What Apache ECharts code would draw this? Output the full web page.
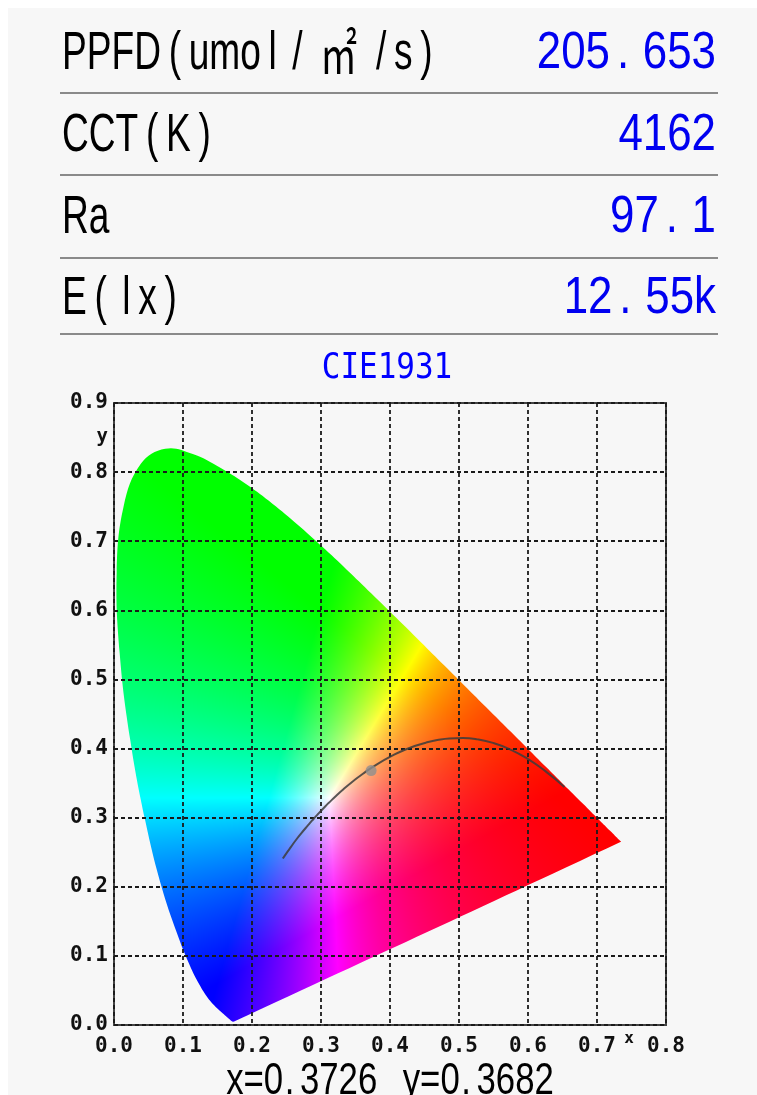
<!DOCTYPE html>
<html>
<head>
<meta charset="utf-8">
<script src="https://cdn.jsdelivr.net/npm/echarts@6/dist/echarts.min.js"></script>
<style>
  html, body { margin: 0; padding: 0; background: #ffffff; }
  #main { position: absolute; left: 8px; top: 8px; width: 749px; height: 1087px; }
</style>
</head>
<body>
<div id="main"></div>
<script>
var myChart = echarts.init(document.getElementById('main'));

// header table
var headerLabels = ['PPFD(umol/㎡/s)', 'CCT(K)', 'Ra', 'E(lx)'];
var headerValues = ['205.653', '4162', '97.1', '12.55k'];

// CIE 1931 2deg spectral locus, 380..700 nm
var locusX = [0.1741, 0.1740, 0.1738, 0.1736, 0.1733, 0.1730, 0.1726, 0.1721, 0.1714, 0.1703,
    0.1689, 0.1669, 0.1644, 0.1611, 0.1566, 0.1510, 0.1440, 0.1355, 0.1241, 0.1096,
    0.0913, 0.0687, 0.0454, 0.0235, 0.0082, 0.0039, 0.0139, 0.0389, 0.0743, 0.1142,
    0.1547, 0.1929, 0.2296, 0.2658, 0.3016, 0.3373, 0.3731, 0.4087, 0.4441, 0.4788,
    0.5125, 0.5448, 0.5752, 0.6029, 0.6270, 0.6482, 0.6658, 0.6801, 0.6915, 0.7006,
    0.7079, 0.7140, 0.7190, 0.7230, 0.7260, 0.7283, 0.7300, 0.7311, 0.7320, 0.7334, 0.7347];
var locusY = [0.0050, 0.0050, 0.0049, 0.0049, 0.0048, 0.0048, 0.0048, 0.0048, 0.0051, 0.0058,
    0.0069, 0.0086, 0.0109, 0.0138, 0.0177, 0.0227, 0.0297, 0.0399, 0.0578, 0.0868,
    0.1327, 0.2007, 0.2950, 0.4127, 0.5384, 0.6548, 0.7502, 0.8120, 0.8338, 0.8262,
    0.8059, 0.7816, 0.7543, 0.7243, 0.6923, 0.6589, 0.6245, 0.5896, 0.5547, 0.5202,
    0.4866, 0.4544, 0.4242, 0.3965, 0.3725, 0.3514, 0.3340, 0.3197, 0.3083, 0.2993,
    0.2920, 0.2859, 0.2809, 0.2770, 0.2740, 0.2717, 0.2700, 0.2689, 0.2680, 0.2666, 0.2653];

// planckian locus, 1000K .. 50000K
var planckX = [0.6528, 0.6251, 0.5985, 0.5732, 0.5493, 0.5267, 0.5056, 0.4862, 0.4685, 0.4525,
    0.4369, 0.4234, 0.4053, 0.3805, 0.3608, 0.3451, 0.3325, 0.3221, 0.3135, 0.3064,
    0.2952, 0.2869, 0.2807, 0.2719, 0.2637, 0.2565, 0.2498, 0.2447];
var planckY = [0.3444, 0.3674, 0.3858, 0.3993, 0.4082, 0.4133, 0.4152, 0.4147, 0.4123, 0.4087,
    0.4041, 0.3990, 0.3907, 0.3768, 0.3636, 0.3516, 0.3411, 0.3318, 0.3236, 0.3166,
    0.3048, 0.2956, 0.2884, 0.2780, 0.2677, 0.2577, 0.2484, 0.2409];

// measured chromaticity
var pointX = 0.3726;
var pointY = 0.3682;

function chromaColor(cx, cy) {
    if (cy <= 0.001) cy = 0.001;
    var X = cx / cy, Z = (1 - cx - cy) / cy;
    var r = 3.2406 * X - 1.5372 - 0.4986 * Z;
    var g = -0.9689 * X + 1.8758 + 0.0415 * Z;
    var b = 0.0557 * X - 0.2040 + 1.0570 * Z;
    r = Math.max(r, 0); g = Math.max(g, 0); b = Math.max(b, 0);
    var m = Math.max(r, g, b) || 1;
    return [Math.round(r / m * 255), Math.round(g / m * 255), Math.round(b / m * 255)];
}

var fillCanvas = null;
function buildFill(api) {
    var w = api.getWidth(), h = api.getHeight();
    var o = api.coord([0, 0]);
    var u = api.coord([1, 1]);
    var sx = u[0] - o[0], sy = u[1] - o[1];
    var cv = document.createElement('canvas');
    cv.width = w; cv.height = h;
    var ctx = cv.getContext('2d');
    var img = ctx.createImageData(w, h);
    for (var py = 0; py < h; py++) {
        var cy = (py + 0.5 - o[1]) / sy;
        if (cy < -0.01 || cy > 0.9) continue;
        for (var px = 0; px < w; px++) {
            var cx = (px + 0.5 - o[0]) / sx;
            if (cx < -0.01 || cx > 0.76) continue;
            var c = chromaColor(cx, cy);
            var k = (py * w + px) * 4;
            img.data[k] = c[0]; img.data[k + 1] = c[1]; img.data[k + 2] = c[2]; img.data[k + 3] = 255;
        }
    }
    ctx.putImageData(img, 0, 0);
    return cv;
}

function renderLocus(params, api) {
    if (!fillCanvas) fillCanvas = buildFill(api);
    var pts = [];
    for (var i = 0; i < locusX.length; i++) {
        pts.push(api.coord([locusX[i], locusY[i]]));
    }
    return {
        type: 'polygon',
        shape: { points: pts, smooth: 0.4 },
        style: { fill: { image: fillCanvas, repeat: 'no-repeat' }, stroke: null },
        silent: true
    };
}

var planckData = [];
for (var i = 0; i < planckX.length; i++) planckData.push([planckX[i], planckY[i]]);

var sansFont = '"Liberation Sans", Arial, sans-serif';
var monoFont = '"DejaVu Sans Mono", monospace';

// wrap narrow glyphs so they get extra room, like the device font
function spacedLabel(s) {
    var out = '', run = '';
    for (var i = 0; i < s.length; i++) {
        var c = s.charAt(i);
        if ('()/l'.indexOf(c) >= 0 || c === '㎡') {
            if (run) { out += '{n|' + run + '}'; run = ''; }
            out += (c === '㎡' ? '{m|' : '{g|') + c + '}';
        } else {
            run += c;
        }
    }
    if (run) out += '{n|' + run + '}';
    return out;
}
function spacedNumber(s) {
    return s.split('.').map(function (p) { return '{n|' + p + '}'; }).join('{d|.}');
}

function labelRich(size, color) {
    var f = 'normal ' + size + 'px ' + sansFont;
    return {
        n: { font: f, fill: color },
        g: { font: f, fill: color, padding: [0, 11, 0, 11] },
        m: { font: 'normal ' + size + 'px "Noto Sans CJK SC"', fill: color, padding: [0, 16, 0, 14] },
        d: { font: f, fill: color, padding: [0, 16, 0, 8] }
    };
}

var rowY = [46, 128, 210, 291];
var lineY = [85, 167, 250, 326];

var graphics = [];
for (var i = 0; i < headerLabels.length; i++) {
    graphics.push({
        type: 'text', x: 54, y: rowY[i], scaleX: 0.7,
        style: { legacy: false, text: spacedLabel(headerLabels[i]), font: 'normal 53px ' + sansFont,
            rich: labelRich(53, '#000'), align: 'left', verticalAlign: 'middle' }
    });
    graphics.push({
        type: 'text', x: 708, y: rowY[i], scaleX: 0.86,
        style: { legacy: false, text: spacedNumber(headerValues[i]), font: 'normal 51px ' + sansFont,
            rich: labelRich(51, '#0000f0'), align: 'right', verticalAlign: 'middle' }
    });
    graphics.push({
        type: 'line',
        shape: { x1: 52, y1: lineY[i], x2: 710, y2: lineY[i] },
        style: { stroke: '#8a8a8a', lineWidth: 2 }
    });
}
graphics.push({
    type: 'text', x: 379, y: 361, scaleX: 0.86,
    style: { legacy: false, text: 'CIE1931', font: 'normal 36px ' + monoFont, fill: '#0000ff',
        align: 'center', verticalAlign: 'middle' }
});
graphics.push({
    type: 'text', x: 100, y: 429,
    style: { legacy: false, text: 'y', font: 'bold 19px ' + monoFont, fill: '#111',
        align: 'right', verticalAlign: 'middle' }
});
graphics.push({
    type: 'text', x: 621, y: 1031,
    style: { legacy: false, text: 'x', font: 'bold 16px ' + monoFont, fill: '#111',
        align: 'center', verticalAlign: 'middle' }
});
var bottomRich = labelRich(44, '#000');
bottomRich.d.padding = [0, 7, 0, 2];
bottomRich.s = { font: 'normal 44px ' + sansFont, padding: [0, 10, 0, 10] };
graphics.push({
    type: 'text', x: 382, y: 1074, scaleX: 0.79,
    style: { legacy: false, text: '{n|x=}' + spacedNumber(pointX.toFixed(4)) + '{s| }{n|y=}' + spacedNumber(pointY.toFixed(4)),
        font: 'normal 44px ' + sansFont, rich: bottomRich, align: 'center', verticalAlign: 'middle' }
});

var axisLabelStyle = {
    fontFamily: monoFont,
    fontWeight: 'bold',
    fontSize: 21,
    color: '#111',
    formatter: function (v) { return v.toFixed(1); }
};
var gridLine = { show: true, lineStyle: { color: '#1a1a1a', width: 1.8, type: [4, 3] } };

option = {
    backgroundColor: '#f7f7f7',
    animation: false,
    grid: {
        left: 106, top: 395, right: 91, bottom: 70,
        show: true, borderColor: '#444', borderWidth: 2,
        backgroundColor: 'transparent',
        outerBoundsMode: 'none'
    },
    xAxis: {
        type: 'value', min: 0, max: 0.8, interval: 0.1, z: 3,
        axisLine: { show: false },
        axisTick: { show: false },
        axisLabel: Object.assign({ margin: 11 }, axisLabelStyle),
        splitLine: gridLine
    },
    yAxis: {
        type: 'value', min: 0, max: 0.9, interval: 0.1, z: 3,
        axisLine: { show: false },
        axisTick: { show: false },
        axisLabel: Object.assign({ margin: 6 }, axisLabelStyle),
        splitLine: gridLine
    },
    graphic: graphics,
    series: [{
        type: 'custom',
        renderItem: renderLocus,
        data: [0],
        silent: true,
        z: 2,
        clip: false
    }, {
        type: 'line',
        data: planckData,
        smooth: true,
        showSymbol: false,
        silent: true,
        lineStyle: { color: 'rgba(60,60,60,0.85)', width: 2 },
        z: 4
    }, {
        type: 'scatter',
        data: [[pointX, pointY]],
        symbolSize: 11,
        silent: true,
        itemStyle: { color: '#8e8e8e' },
        z: 5
    }]
};

myChart.setOption(option);
</script>
</body>
</html>
